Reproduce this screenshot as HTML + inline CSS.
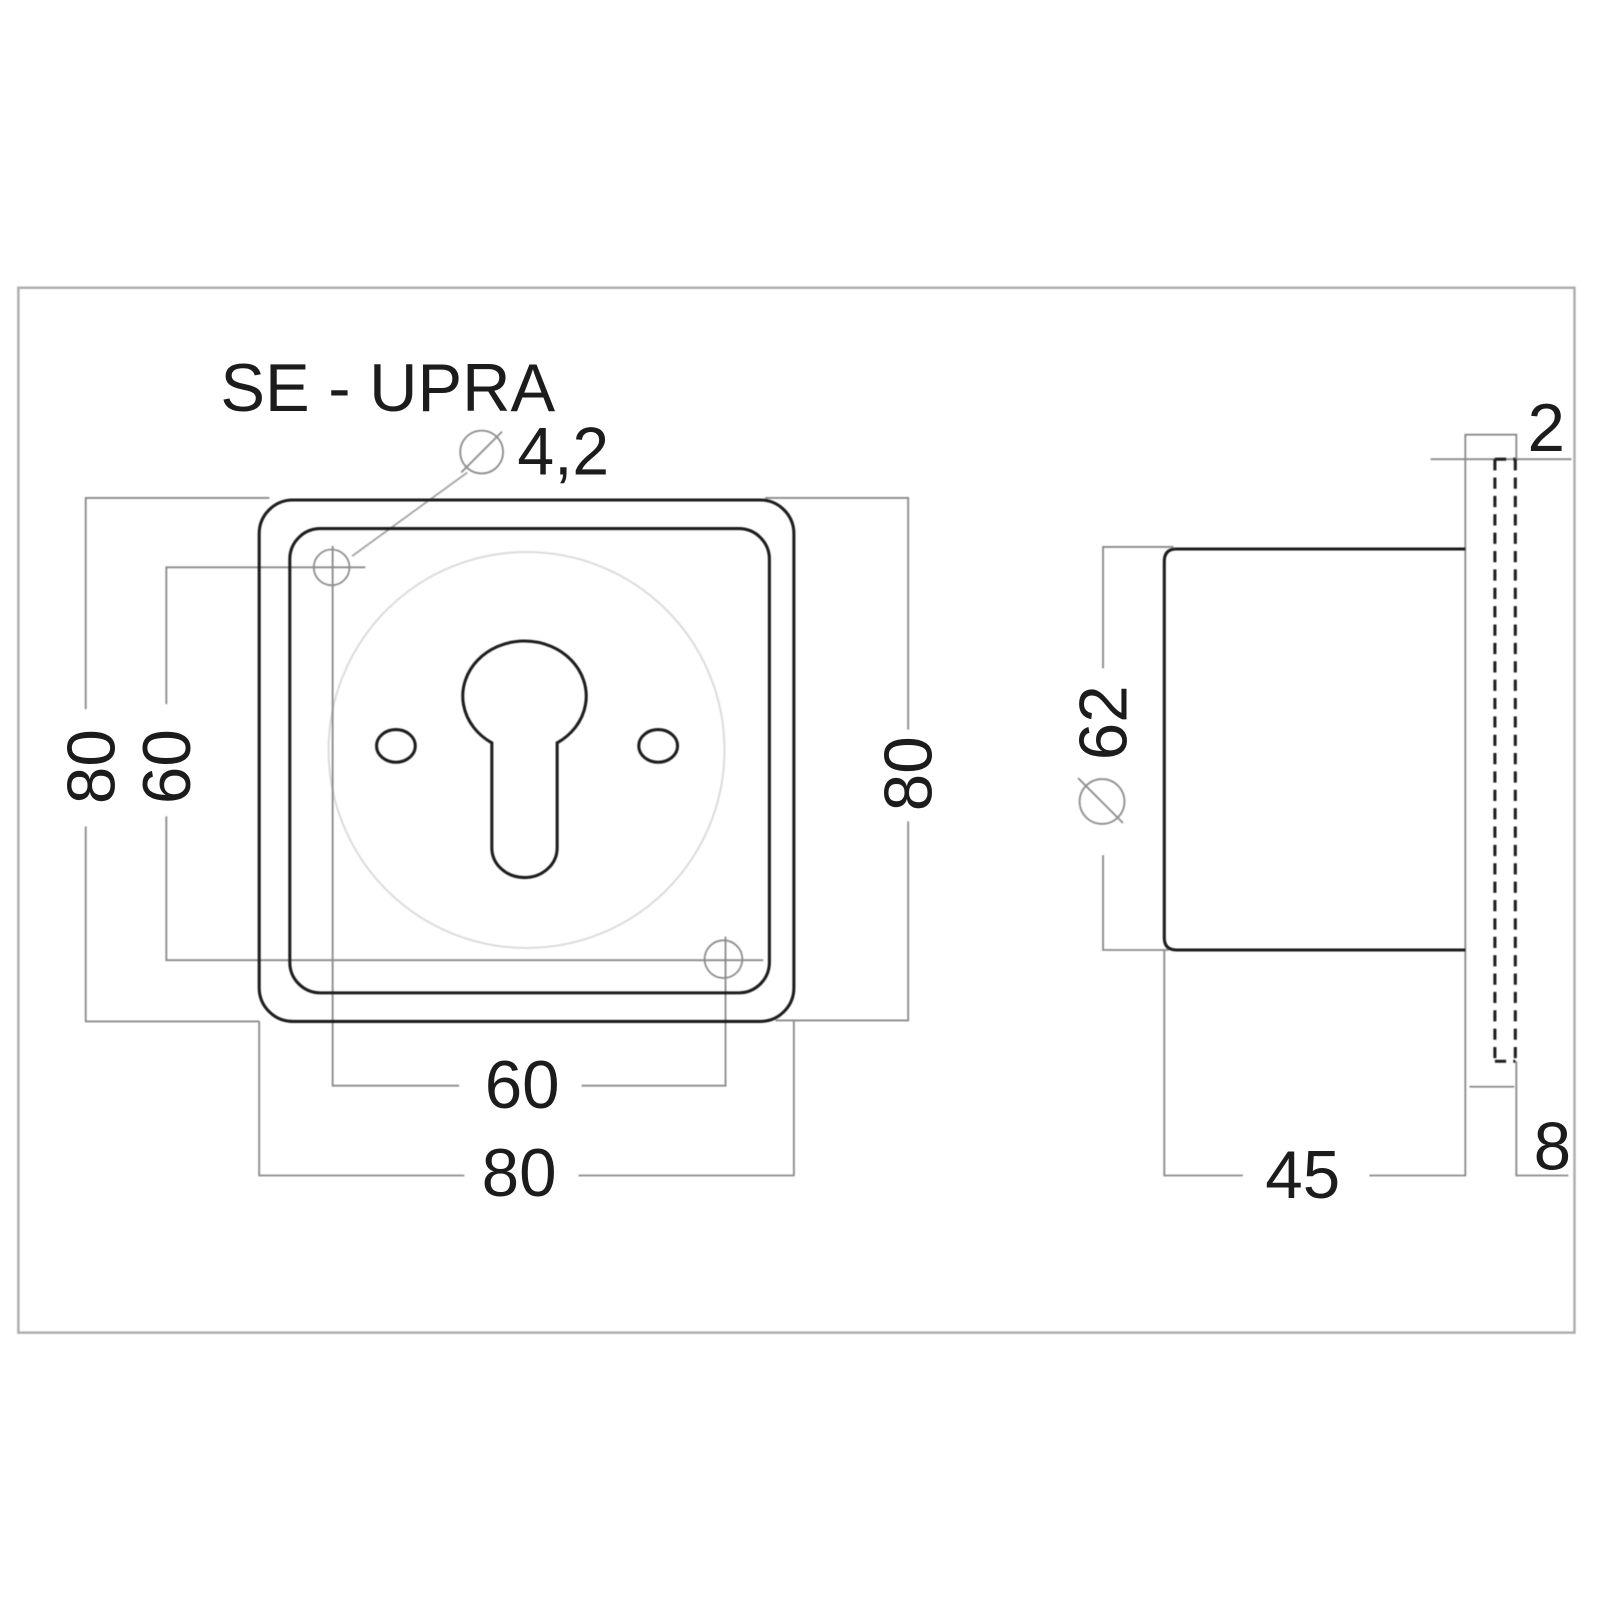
<!DOCTYPE html>
<html><head><meta charset="utf-8"><style>
html,body{margin:0;padding:0;background:#fff}
svg{display:block}
text{font-family:"Liberation Sans",sans-serif;fill:#1c1c1c;font-size:66px}
</style></head><body>
<svg width="1600" height="1600" viewBox="0 0 1568 1568" xmlns="http://www.w3.org/2000/svg">
<g fill="none" stroke-linecap="butt" style="filter:blur(.4px)">
<rect x="18" y="282" width="1525" height="1024" stroke="#adadad" stroke-width="2.4"/>
<circle cx="516" cy="735" r="194" stroke="#dcdcdc" stroke-width="2"/>
<g stroke="#8a8a8a" stroke-width="1.8">
<path d="M264 488H84V695M84 810V1001H254"/>
<path d="M358 556H163V690M163 800V941H748"/>
<path d="M750 488H890V715M890 805V1000H760"/>
<path d="M326 535V1064H450M570 1064H711V918"/>
<path d="M254 1001V1152H455M567 1152H778V1001"/>
<path d="M345 545L458 463" stroke="#a5a5a5"/>
<path d="M1402 450H1540"/>
<path d="M1440 1065H1484"/>
<path d="M1436 931V1152H1342M1218 1152H1141V931"/>
<path d="M1486 1040V1152H1537"/>
<path d="M1436 931V540M1436 540V426H1486V450"/>
<path d="M1150 536H1081V655M1081 838V931H1145"/>
</g>
<g stroke="#8f8f8f" stroke-width="1.8">
<circle cx="325" cy="556" r="17.5"/>
<circle cx="709" cy="940" r="18.5"/>
<circle cx="472" cy="443" r="21"/>
<path d="M452 463L492 423"/>
<circle cx="1080" cy="785.5" r="22"/>
<path d="M1056.5 762.5L1100.5 806.5"/>
</g>
<g stroke="#1d1d1d" stroke-width="3">
<rect x="254" y="490" width="524" height="511" rx="33"/>
<rect x="284" y="518" width="470" height="455" rx="30"/>
<path d="M482 728V831A32 29 0 0 0 546 831V728A60.5 54 0 1 0 482 728Z"/>
<ellipse cx="388" cy="731" rx="19" ry="16"/>
<ellipse cx="645" cy="731" rx="19" ry="16"/>
<path d="M1436 538H1153Q1141 538 1141 550V919Q1141 931 1153 931H1436"/>
</g>
<g stroke="#1d1d1d" stroke-width="3" stroke-dasharray="11 7">
<path d="M1465 450V1040"/>
<path d="M1485 450V1040"/>
<path d="M1465 450H1485"/>
<path d="M1465 1040H1485"/>
</g>
</g>
<text x="216" y="403" textLength="328" lengthAdjust="spacingAndGlyphs">SE - UPRA</text>
<text x="507" y="465" textLength="90" lengthAdjust="spacingAndGlyphs">4,2</text>
<text x="1497" y="442">2</text>
<text x="1503" y="1146">8</text>
<text x="475" y="1086">60</text>
<text x="472" y="1172">80</text>
<text x="1240" y="1174">45</text>
<text transform="translate(112,788) rotate(-90)">80</text>
<text transform="translate(186,788) rotate(-90)">60</text>
<text transform="translate(913,795) rotate(-90)">80</text>
<text transform="translate(1104,745) rotate(-90)">62</text>
</svg>
</body></html>
